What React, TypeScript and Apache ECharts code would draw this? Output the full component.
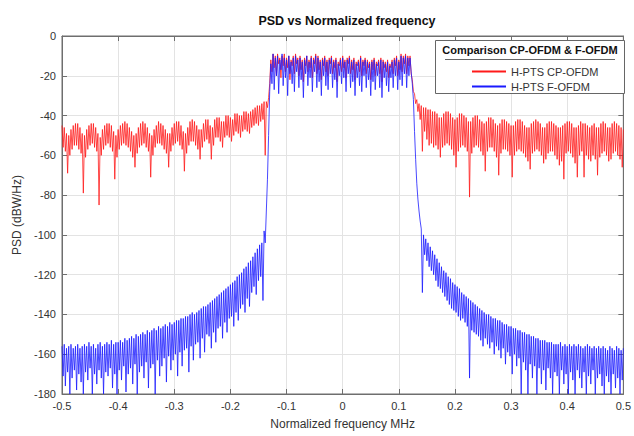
import React, { useEffect, useRef } from "react";
import * as echarts from "echarts";

const FREQ_START = -0.5;
const FREQ_STEP = 0.002;

const X_TICKS = [-0.5, -0.4, -0.3, -0.2, -0.1, 0, 0.1, 0.2, 0.3, 0.4, 0.5];
const Y_TICKS = [0, -20, -40, -60, -80, -100, -120, -140, -160, -180];

const SERIES_NAMES = ["H-PTS CP-OFDM", "H-PTS F-OFDM"];

// CP-OFDM PSD (dBW/Hz), one value every 0.002 from -0.5 to 0.5 (each row = 0.02)
const cpOfdm = [
  -45, -56, -46, -58, -49, -69, -50, -60, -47, -57, // -0.50
  -45, -55, -44, -55, -44, -57, -46, -59, -49, -79, // -0.48
  -50, -61, -47, -57, -45, -55, -44, -54, -44, -56, // -0.46
  -46, -58, -49, -85, -51, -60, -47, -57, -45, -55, // -0.44
  -44, -54, -44, -56, -45, -58, -48, -72, -50, -61, // -0.42
  -47, -57, -45, -55, -44, -54, -43, -55, -44, -56, // -0.40
  -46, -58, -48, -61, -50, -66, -49, -59, -46, -56, // -0.38
  -44, -55, -43, -54, -44, -56, -46, -58, -49, -71, // -0.36
  -50, -60, -47, -56, -45, -54, -43, -54, -44, -55, // -0.34
  -45, -57, -47, -59, -49, -66, -49, -58, -46, -55, // -0.32
  -44, -54, -43, -53, -43, -55, -45, -57, -48, -68, // -0.30
  -49, -59, -46, -55, -43, -53, -42, -53, -43, -55, // -0.28
  -45, -57, -47, -62, -47, -56, -44, -53, -42, -52, // -0.26
  -42, -54, -45, -62, -46, -55, -42, -51, -41, -51, // -0.24
  -41, -53, -43, -56, -43, -51, -40, -50, -40, -51, // -0.22
  -41, -53, -42, -50, -39, -48, -39, -49, -40, -51, // -0.20
  -40, -48, -38, -47, -38, -48, -39, -49, -38, -46, // -0.18
  -37, -45, -36, -44, -35, -45, -35, -43, -34, -42, // -0.16
  -33, -60, -33, -36, -31, -24, -12, -18, -9, -16, // -0.14
  -10, -20, -9, -14, -11, -21, -10, -15, -9, -18, // -0.12
  -11, -16, -10, -22, -12, -15, -10, -19, -9, -14, // -0.10
  -11, -20, -10, -17, -12, -23, -11, -15, -10, -18, // -0.08
  -12, -16, -10, -21, -11, -14, -9, -19, -10, -17, // -0.06
  -12, -22, -11, -15, -10, -18, -12, -20, -11, -14, // -0.04
  -10, -19, -12, -16, -11, -23, -13, -15, -11, -18, // -0.02
  -10, -16, -12, -21, -11, -14, -10, -19, -12, -17, // 0.00
  -11, -22, -13, -15, -12, -18, -10, -20, -12, -15, // 0.02
  -11, -19, -12, -16, -13, -22, -12, -17, -11, -20, // 0.04
  -13, -15, -12, -19, -11, -23, -12, -16, -13, -18, // 0.06
  -12, -21, -14, -16, -12, -19, -11, -15, -10, -20, // 0.08
  -12, -17, -9, -18, -10, -14, -9, -19, -10, -15, // 0.10
  -10, -19, -22, -28, -29, -34, -32, -38, -34, -42, // 0.12
  -35, -58, -36, -48, -36, -52, -37, -55, -37, -54, // 0.14
  -38, -56, -38, -55, -39, -57, -41, -61, -41, -56, // 0.16
  -39, -55, -38, -54, -38, -55, -39, -57, -41, -60, // 0.18
  -42, -66, -41, -58, -39, -56, -39, -55, -40, -56, // 0.20
  -41, -58, -43, -81, -43, -59, -41, -56, -40, -55, // 0.22
  -40, -56, -42, -58, -43, -60, -44, -68, -43, -58, // 0.24
  -41, -56, -41, -56, -42, -58, -44, -61, -45, -70, // 0.26
  -44, -59, -42, -57, -42, -57, -43, -58, -44, -60, // 0.28
  -45, -71, -45, -60, -43, -58, -42, -57, -42, -58, // 0.30
  -43, -59, -45, -61, -46, -63, -46, -67, -44, -59, // 0.32
  -43, -58, -42, -57, -43, -58, -44, -60, -46, -64, // 0.34
  -46, -62, -44, -59, -43, -58, -43, -58, -44, -60, // 0.36
  -45, -62, -46, -65, -46, -63, -45, -72, -44, -59, // 0.38
  -43, -58, -43, -59, -44, -61, -46, -64, -46, -71, // 0.40
  -45, -60, -43, -58, -44, -71, -44, -60, -45, -62, // 0.42
  -46, -63, -45, -60, -44, -62, -46, -70, -46, -61, // 0.44
  -44, -59, -43, -58, -44, -60, -46, -63, -46, -62, // 0.46
  -44, -59, -43, -58, -44, -60, -45, -62, -46, -66, // 0.48
  -47, // 0.50
];

// F-OFDM PSD (dBW/Hz), same sampling
const fOfdm = [
  -156, -171, -155, -176, -157, -169, -156, -180, -155, -172, // -0.50
  -157, -168, -156, -178, -155, -170, -157, -174, -156, -180, // -0.48
  -155, -169, -156, -173, -154, -167, -156, -180, -155, -170, // -0.46
  -157, -175, -155, -168, -154, -172, -156, -180, -155, -169, // -0.44
  -154, -171, -155, -167, -153, -177, -155, -170, -154, -180, // -0.42
  -154, -168, -153, -173, -154, -166, -152, -179, -153, -170, // -0.40
  -152, -167, -151, -175, -152, -165, -150, -180, -151, -169, // -0.38
  -150, -166, -149, -172, -150, -164, -148, -177, -149, -167, // -0.36
  -148, -165, -147, -180, -148, -163, -146, -171, -147, -166, // -0.34
  -146, -162, -145, -174, -146, -161, -144, -168, -145, -163, // -0.32
  -144, -160, -143, -171, -143, -159, -142, -166, -142, -158, // -0.30
  -141, -157, -141, -169, -140, -156, -139, -163, -140, -155, // -0.28
  -139, -154, -138, -162, -137, -152, -136, -159, -136, -150, // -0.26
  -135, -151, -134, -157, -133, -149, -132, -154, -131, -147, // -0.24
  -130, -146, -129, -152, -128, -144, -127, -149, -126, -142, // -0.22
  -125, -141, -124, -146, -123, -139, -121, -143, -120, -137, // -0.20
  -119, -135, -117, -139, -116, -132, -114, -136, -113, -129, // -0.18
  -111, -126, -109, -130, -107, -123, -105, -121, -104, -133, // -0.16
  -98, -104, -88, -72, -50, -28, -14, -24, -9, -27, // -0.14
  -11, -20, -10, -29, -12, -17, -9, -25, -11, -21, // -0.12
  -12, -30, -10, -19, -13, -24, -11, -28, -10, -18, // -0.10
  -12, -26, -11, -22, -13, -31, -12, -19, -10, -25, // -0.08
  -13, -21, -11, -28, -12, -18, -10, -26, -11, -23, // -0.06
  -13, -30, -12, -20, -11, -25, -13, -27, -12, -19, // -0.04
  -11, -26, -13, -22, -12, -31, -14, -20, -12, -24, // -0.02
  -11, -21, -13, -28, -12, -19, -11, -26, -13, -23, // 0.00
  -12, -30, -14, -21, -13, -25, -11, -28, -13, -20, // 0.02
  -12, -26, -13, -22, -14, -30, -13, -23, -12, -27, // 0.04
  -14, -20, -13, -26, -12, -31, -13, -21, -14, -25, // 0.06
  -13, -28, -15, -21, -13, -26, -12, -20, -11, -27, // 0.08
  -13, -22, -10, -25, -11, -19, -10, -26, -11, -20, // 0.10
  -11, -18, -24, -32, -48, -62, -74, -82, -88, -93, // 0.12
  -97, -129, -100, -110, -102, -113, -104, -116, -106, -118, // 0.14
  -108, -120, -110, -123, -112, -126, -114, -127, -116, -129, // 0.16
  -118, -131, -119, -133, -121, -135, -122, -137, -124, -138, // 0.18
  -125, -139, -126, -141, -127, -143, -129, -142, -130, -144, // 0.20
  -131, -146, -132, -172, -133, -148, -134, -149, -135, -150, // 0.22
  -136, -151, -137, -153, -138, -156, -139, -152, -140, -155, // 0.24
  -140, -157, -141, -154, -142, -160, -142, -156, -143, -158, // 0.26
  -143, -162, -144, -157, -145, -165, -145, -159, -146, -161, // 0.28
  -146, -170, -147, -160, -147, -166, -148, -162, -148, -180, // 0.30
  -149, -164, -149, -168, -150, -180, -150, -165, -151, -172, // 0.32
  -151, -166, -152, -180, -152, -167, -153, -175, -153, -168, // 0.34
  -153, -178, -154, -167, -154, -172, -154, -180, -155, -169, // 0.36
  -155, -171, -155, -180, -154, -168, -156, -175, -155, -170, // 0.38
  -156, -180, -155, -169, -156, -173, -155, -180, -156, -168, // 0.40
  -155, -172, -156, -177, -157, -169, -156, -180, -155, -171, // 0.42
  -156, -175, -157, -168, -156, -180, -157, -172, -156, -170, // 0.44
  -157, -176, -156, -180, -157, -171, -158, -174, -156, -180, // 0.46
  -157, -170, -158, -177, -156, -172, -157, -180, -158, -173, // 0.48
  -157, // 0.50
];

const FONT = "'Liberation Sans', Arial, Helvetica, sans-serif";
const AXIS_COLOR = "#6e6e6e";
const LABEL_COLOR = "#333333";
const GRID_COLOR = "#e3e3e3";

function toPairs(values: number[]) {
  return values.map((v, i) => [+(FREQ_START + i * FREQ_STEP).toFixed(4), v]);
}

export default function App() {
  const ref = useRef<HTMLDivElement>(null);

  useEffect(() => {
    if (!ref.current) return;
    const chart = echarts.init(ref.current, undefined, { renderer: "svg" });
    const xMin = X_TICKS[0];
    const xMax = X_TICKS[X_TICKS.length - 1];
    const yMax = Y_TICKS[0];
    const yMin = Y_TICKS[Y_TICKS.length - 1];

    const baseX = { type: "value" as const, min: xMin, max: xMax, interval: 0.1 };
    const baseY = { type: "value" as const, min: yMin, max: yMax, interval: 20 };
    const tick = { show: true, inside: true, length: 5, lineStyle: { color: AXIS_COLOR } };
    const line = { show: true, onZero: false, lineStyle: { color: AXIS_COLOR } };

    chart.setOption({
      animation: false,
      backgroundColor: "#ffffff",
      title: {
        text: "PSD vs Normalized frequency",
        left: 342,
        textAlign: "center",
        top: 9,
        textStyle: { fontFamily: FONT, fontSize: 12.5, fontWeight: "bold", color: "#111" },
      },
      grid: {
        left: 62,
        right: 8,
        top: 36,
        bottom: 42,
        show: true,
        borderColor: AXIS_COLOR,
        borderWidth: 1,
        backgroundColor: "#ffffff",
      },
      xAxis: [
        {
          ...baseX,
          position: "bottom",
          name: "Normalized frequency MHz",
          nameLocation: "middle",
          nameGap: 24,
          nameTextStyle: { fontFamily: FONT, fontSize: 12, color: LABEL_COLOR },
          axisLine: line,
          axisTick: tick,
          axisLabel: {
            fontFamily: FONT,
            fontSize: 11,
            color: LABEL_COLOR,
            margin: 6,
            formatter: (v: number) => String(+v.toFixed(1)),
          },
          splitLine: { show: true, lineStyle: { color: GRID_COLOR, width: 1 } },
        },
        {
          ...baseX,
          position: "top",
          axisLine: line,
          axisTick: tick,
          axisLabel: { show: false },
          splitLine: { show: false },
        },
      ],
      yAxis: [
        {
          ...baseY,
          position: "left",
          name: "PSD (dBW/Hz)",
          nameLocation: "middle",
          nameGap: 36,
          nameTextStyle: { fontFamily: FONT, fontSize: 12, color: LABEL_COLOR },
          axisLine: line,
          axisTick: tick,
          axisLabel: { fontFamily: FONT, fontSize: 11, color: LABEL_COLOR, margin: 6 },
          splitLine: { show: true, lineStyle: { color: GRID_COLOR, width: 1 } },
        },
        {
          ...baseY,
          position: "right",
          axisLine: line,
          axisTick: tick,
          axisLabel: { show: false },
          splitLine: { show: false },
        },
      ],
      legend: {
        data: SERIES_NAMES,
        orient: "vertical",
        left: 467,
        top: 61,
        itemWidth: 34,
        itemHeight: 2,
        itemGap: 4,
        icon: "rect",
        z: 6,
        textStyle: { fontFamily: FONT, fontSize: 11, color: LABEL_COLOR },
      },
      graphic: [
        {
          type: "rect",
          z: 5,
          shape: { x: 435.5, y: 40.5, width: 189, height: 53 },
          style: { fill: "#ffffff", stroke: "#666666", lineWidth: 1 },
        },
        {
          type: "text",
          z: 6,
          x: 530,
          y: 50,
          style: {
            text: "Comparison CP-OFDM & F-OFDM",
            fontFamily: FONT,
            fontSize: 11,
            fontWeight: "bold",
            fill: "#111",
            textAlign: "center",
            textVerticalAlign: "middle",
          },
        },
        {
          type: "line",
          z: 6,
          shape: { x1: 445, y1: 59.5, x2: 615, y2: 59.5 },
          style: { stroke: "#666666", lineWidth: 1 },
        },
      ],
      series: [
        {
          name: SERIES_NAMES[0],
          type: "line",
          data: toPairs(cpOfdm),
          showSymbol: false,
          symbol: "none",
          clip: true,
          color: "#ff1a1a",
          lineStyle: { color: "#ff1a1a", width: 0.8 },
          z: 2,
        },
        {
          name: SERIES_NAMES[1],
          type: "line",
          data: toPairs(fOfdm),
          showSymbol: false,
          symbol: "none",
          clip: true,
          color: "#1a1aff",
          lineStyle: { color: "#1a1aff", width: 0.8 },
          z: 3,
        },
      ],
    });

    return () => chart.dispose();
  }, []);

  return (
    <div ref={ref} style={{ position: "fixed", left: 0, top: 0, width: 634, height: 436 }} />
  );
}
